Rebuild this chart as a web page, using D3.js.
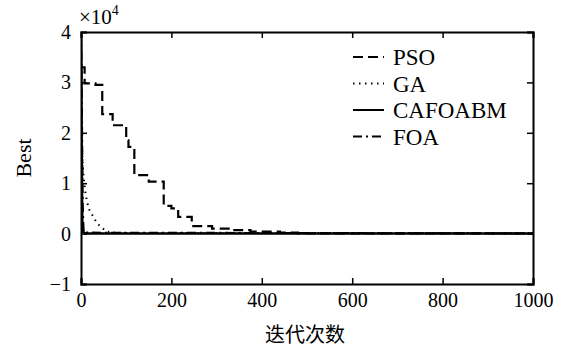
<!DOCTYPE html>
<html>
<head>
<meta charset="utf-8">
<script src="https://cdn.jsdelivr.net/npm/d3@7"></script>
<style>
  body { margin: 0; background: #fff; }
  text { font-family: "Liberation Serif", "DejaVu Serif", serif; fill: #000; }
</style>
</head>
<body>
<div id="chart"></div>
<script>
// Data (values in units of 1e4).
var xTicks = [0, 200, 400, 600, 800, 1000];
var yTicks = [-1, 0, 1, 2, 3, 4];
var seriesNames = ["PSO", "GA", "CAFOABM", "FOA"];

// PSO is a step curve: [iteration, best]
var psoData = [[0, 3.3], [8, 2.98], [32, 2.95], [47, 2.37], [70, 2.15], [100, 1.85], [105, 1.72],
  [118, 1.16], [150, 1.03], [183, 0.55], [200, 0.5], [215, 0.33], [245, 0.15], [290, 0.1],
  [330, 0.07], [375, 0.04], [440, 0.02], [480, 0.005], [1000, 0.005]];
var gaData = [[1, 1.9], [5, 1.2], [9, 0.86], [12, 0.7], [15, 0.57], [20, 0.43], [28, 0.33],
  [35, 0.21], [46, 0.12], [57, 0.04], [70, 0.02], [100, 0.012], [1000, 0.012]];
var cafoabmData = [[0, 4.0], [1, 2.5], [2, 1.0], [3, 0.2], [5, 0.03], [10, 0], [1000, 0]];
var foaData = [[0, 4.0], [1, 3.5], [2, 2.5], [3, 1.5], [4, 0.5], [6, 0.02], [1000, 0.003]];

var width = 561, height = 347;
var margin = {left: 81, right: 28, top: 32, bottom: 63};
var plotW = width - margin.left - margin.right;
var plotH = height - margin.top - margin.bottom;

var xScale = d3.scaleLinear().domain([0, 1000]).range([0, plotW]);
var yScale = d3.scaleLinear().domain([-1, 4]).range([plotH, 0]);

var svg = d3.select("#chart").append("svg")
  .attr("width", width)
  .attr("height", height);

var g = svg.append("g")
  .attr("transform", "translate(" + margin.left + "," + margin.top + ")");

g.append("clipPath").attr("id", "clip")
  .append("rect").attr("width", plotW).attr("height", plotH);

// Axes: bottom/left with labels, top/right mirrored ticks only. Ticks point inward.
var tickLen = 6;
g.append("g").attr("transform", "translate(0," + plotH + ")")
  .call(d3.axisBottom(xScale).tickValues(xTicks).tickSize(-tickLen).tickPadding(6)
    .tickFormat(d3.format("d")))
  .call(function (a) { a.selectAll("text").attr("font-size", 20).attr("dy", "0.85em"); });
g.append("g")
  .call(d3.axisTop(xScale).tickValues(xTicks).tickSize(-tickLen).tickFormat(""));
g.append("g")
  .call(d3.axisLeft(yScale).tickValues(yTicks).tickSize(-tickLen).tickPadding(10)
    .tickFormat(function (d) { return d < 0 ? "\u2212" + (-d) : d; }))
  .call(function (a) { a.selectAll("text").attr("font-size", 20); });
g.append("g").attr("transform", "translate(" + plotW + ",0)")
  .call(d3.axisRight(yScale).tickValues(yTicks).tickSize(-tickLen).tickFormat(""));

g.selectAll(".domain").attr("stroke", "#000").attr("stroke-width", 2);
g.selectAll(".tick line").attr("stroke", "#000").attr("stroke-width", 1.5);

// Lines
var line = d3.line().x(function (d) { return xScale(d[0]); }).y(function (d) { return yScale(d[1]); });
var stepLine = d3.line().curve(d3.curveStepAfter)
  .x(function (d) { return xScale(d[0]); }).y(function (d) { return yScale(d[1]); });

var styles = {
  PSO: {dash: "10,5", width: 2.2},
  GA: {dash: "1.5,4.5", width: 2},
  CAFOABM: {dash: null, width: 2.5},
  FOA: {dash: "9,4,2,4", width: 2}
};

var lines = g.append("g").attr("clip-path", "url(#clip)");
[[foaData, "FOA", line], [gaData, "GA", line], [psoData, "PSO", stepLine], [cafoabmData, "CAFOABM", line]]
  .forEach(function (s) {
    lines.append("path")
      .datum(s[0])
      .attr("fill", "none")
      .attr("stroke", "#000")
      .attr("stroke-width", styles[s[1]].width)
      .attr("stroke-dasharray", styles[s[1]].dash)
      .attr("d", s[2]);
  });

// Legend
var legend = svg.append("g").attr("transform", "translate(353,57)");
seriesNames.forEach(function (name, i) {
  var row = legend.append("g").attr("transform", "translate(0," + (i * 26.5) + ")");
  row.append("line")
    .attr("x1", 0).attr("x2", 31).attr("y1", 0).attr("y2", 0)
    .attr("stroke", "#000")
    .attr("stroke-width", 2)
    .attr("stroke-dasharray", styles[name].dash);
  row.append("text")
    .attr("x", 40).attr("y", 8)
    .attr("font-size", 23)
    .text(name);
});

// Multiplier, axis titles
var mult = svg.append("text").attr("x", 79).attr("y", 24).attr("font-size", 21);
mult.append("tspan").text("\u00d710");
mult.append("tspan").attr("font-size", 14).attr("dy", -9).text("4");

svg.append("text")
  .attr("transform", "translate(31,158)rotate(-90)")
  .attr("text-anchor", "middle")
  .attr("font-size", 22)
  .text("Best");

svg.append("text")
  .attr("x", 305)
  .attr("y", 342)
  .attr("text-anchor", "middle")
  .attr("font-size", 20)
  .style("font-family", "'Noto Sans CJK SC', sans-serif")
  .text("迭代次数");
</script>
</body>
</html>
